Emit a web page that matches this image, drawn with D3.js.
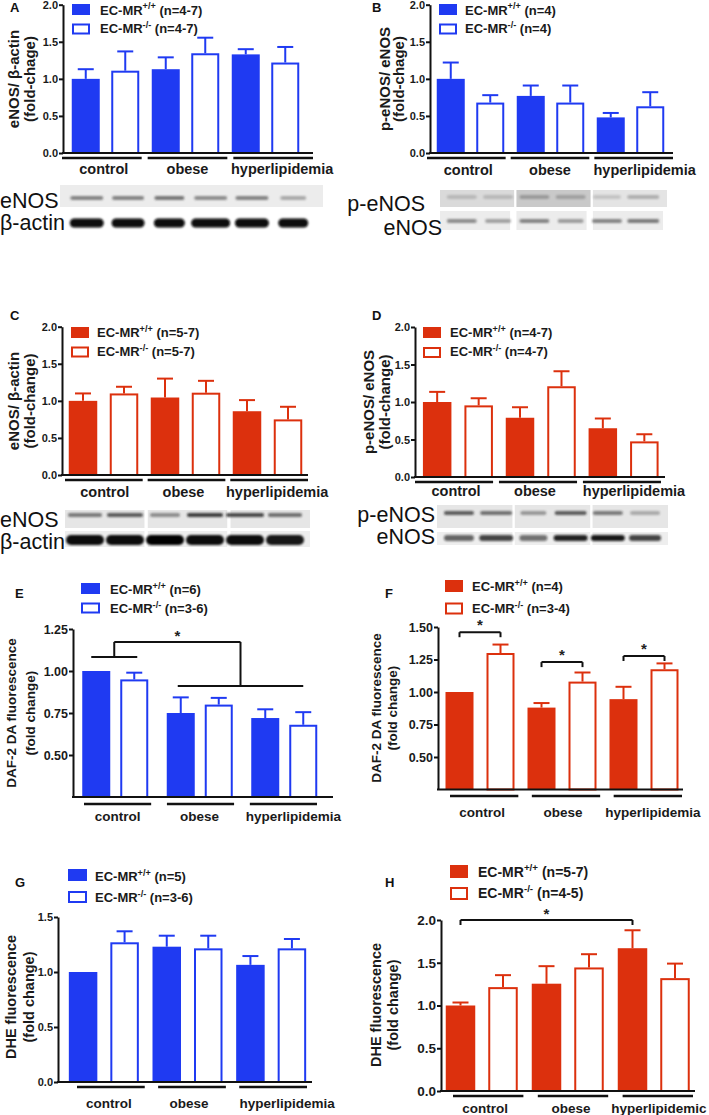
<!DOCTYPE html>
<html><head><meta charset="utf-8">
<script src="https://cdn.jsdelivr.net/npm/d3@7"></script>
<style>body{margin:0;background:#fff}svg{display:block}</style>
</head><body><svg id="c" width="709" height="1115"></svg>
<script>
// ---------------- DATA ----------------
const groups = ["control","obese","hyperlipidemia"];
const groupsH = ["control","obese","hyperlipidemic"];
const ticks2 = [0,0.5,1,1.5,2];
const ticksE = [0.5,0.75,1,1.25];
const ticksF = [0.5,0.75,1,1.25,1.5];
const ticksG = [0,0.5,1,1.5];

// A: eNOS/β-actin (blue)
const aWT=[1.00,1.13,1.33], aWTerr=[0.13,0.16,0.07];
const aKO=[1.11,1.345,1.22], aKOerr=[0.26,0.21,0.21];
// B: p-eNOS/eNOS (blue)
const bWT=[1.00,0.77,0.48], bWTerr=[0.22,0.14,0.06];
const bKO=[0.68,0.68,0.63], bKOerr=[0.10,0.23,0.19];
// C: eNOS/β-actin (red)
const cWT=[1.00,1.045,0.86], cWTerr=[0.10,0.255,0.15];
const cKO=[1.10,1.11,0.75], cKOerr=[0.09,0.16,0.17];
// D: p-eNOS/eNOS (red)
const dWT=[1.00,0.79,0.65], dWTerr=[0.135,0.14,0.13];
const dKO=[0.955,1.21,0.475], dKOerr=[0.095,0.20,0.095];
// E: DAF-2 DA (blue)
const eWT=[1.00,0.75,0.72], eWTerr=[0,0.093,0.052];
const eKO=[0.95,0.80,0.68], eKOerr=[0.04,0.04,0.075];
// F: DAF-2 DA (red)
const fWT=[1.00,0.88,0.945], fWTerr=[0,0.035,0.095];
const fKO=[1.30,1.08,1.175], fKOerr=[0.065,0.07,0.045];
// G: DHE (blue)
const gWT=[1.00,1.23,1.065], gWTerr=[0,0.10,0.08];
const gKO=[1.27,1.215,1.215], gKOerr=[0.10,0.115,0.085];
// H: DHE (red)
const hWT=[1.00,1.255,1.67], hWTerr=[0.035,0.205,0.21];
const hKO=[1.215,1.445,1.32], hKOerr=[0.14,0.155,0.17];

// legends: [superscript, n]
const legA=[["+/+","(n=4-7)"],["-/-","(n=4-7)"]];
const legB=[["+/+","(n=4)"],["-/-","(n=4)"]];
const legC=[["+/+","(n=5-7)"],["-/-","(n=5-7)"]];
const legD=[["+/+","(n=4-7)"],["-/-","(n=4-7)"]];
const legE=[["+/+","(n=6)"],["-/-","(n=3-6)"]];
const legF=[["+/+","(n=4)"],["-/-","(n=3-4)"]];
const legG=[["+/+","(n=5)"],["-/-","(n=3-6)"]];
const legH=[["+/+","(n=5-7)"],["-/-","(n=4-5)"]];

// significance brackets (values on y scale)
const sigE = {left:1.083, top:1.173, right:0.91};
const sigF = [1.46, 1.23, 1.277];
const sigH = 2.0;

// western blot band intensities (6 lanes)
const blotA_eNOS=[0.55,0.55,0.62,0.5,0.55,0.35], blotA_actin=[1,1,1,1,1,1];
const blotB_p=[0.22,0.22,0.35,0.3,0.2,0.32], blotB_e=[0.5,0.4,0.55,0.42,0.55,0.6];
const blotC_eNOS=[0.55,0.7,0.45,0.85,0.8,0.6], blotC_actin=[0.95,0.95,1,0.95,0.95,0.9];
const blotD_p=[0.7,0.6,0.4,0.7,0.55,0.3], blotD_e=[0.6,0.75,0.55,0.9,0.95,0.75];

// ---------------- DRAW ----------------
const BLUE="#1f3af2", RED="#dc300d";
const FONT='"Liberation Sans", Arial, Helvetica, sans-serif';
const svg=d3.select("#c");
const defs=svg.append("defs");
defs.append("filter").attr("id","blur").attr("x","-20%").attr("y","-100%").attr("width","140%").attr("height","300%")
  .append("feGaussianBlur").attr("stdDeviation",1.3);
defs.append("filter").attr("id","blur2").attr("x","-20%").attr("y","-100%").attr("width","140%").attr("height","300%")
  .append("feGaussianBlur").attr("stdDeviation",0.9);

function drawPanel(p){
  const g=svg.append("g").attr("font-family",FONT).attr("font-weight","bold");
  const y=d3.scaleLinear().domain(p.yDomain).range([p.yBottom,p.yTop]);
  const gx=d3.scaleBand().domain(p.groups).range(p.gRange);
  const S=gx.step(), pi=1-p.bw/p.gap, po=(S/p.gap-2+pi)/2;
  const ix=d3.scaleBand().domain(["wt","ko"]).range([0,S]).paddingInner(pi).paddingOuter(po);
  const rows=p.groups.flatMap((grp,i)=>[
    {grp,s:"wt",v:p.wt[i],e:p.wtErr[i]},
    {grp,s:"ko",v:p.ko[i],e:p.koErr[i]}]);
  const cx=d=>gx(d.grp)+ix(d.s)+ix.bandwidth()/2;
  const base=y(p.yDomain[0]);
  const eb=rows.filter(d=>d.e>0);
  g.selectAll("line.ev").data(eb).join("line")
    .attr("x1",cx).attr("x2",cx).attr("y1",d=>y(d.v)).attr("y2",d=>y(d.v+d.e))
    .attr("stroke",p.color).attr("stroke-width",2);
  g.selectAll("line.ec").data(eb).join("line")
    .attr("x1",d=>cx(d)-p.cap/2).attr("x2",d=>cx(d)+p.cap/2).attr("y1",d=>y(d.v+d.e)).attr("y2",d=>y(d.v+d.e))
    .attr("stroke",p.color).attr("stroke-width",2);
  g.selectAll("rect.bar").data(rows).join("rect")
    .attr("x",d=>gx(d.grp)+ix(d.s)+(d.s==="ko"?1:0))
    .attr("width",d=>ix.bandwidth()-(d.s==="ko"?2:0))
    .attr("y",d=>y(d.v)+(d.s==="ko"?1:0))
    .attr("height",d=>base-y(d.v)-(d.s==="ko"?1:0))
    .attr("fill",d=>d.s==="wt"?p.color:"#fff")
    .attr("stroke",d=>d.s==="wt"?"none":p.color).attr("stroke-width",2);
  // axes
  const ax=g.append("g").attr("transform",`translate(${p.axisX},0)`)
    .call(d3.axisLeft(y).tickValues(p.ticks).tickFormat(d3.format(p.fmt)).tickSize(4).tickSizeOuter(0));
  ax.attr("font-family",FONT).attr("font-size",p.tickFs).attr("font-weight","bold");
  ax.select(".domain").attr("stroke","#111").attr("stroke-width",2);
  ax.selectAll(".tick line").attr("stroke","#111").attr("stroke-width",2);
  ax.selectAll(".tick text").attr("fill","#1a1a1a").attr("x",-5);
  g.append("line").attr("x1",p.axisX-1).attr("x2",p.xEnd).attr("y1",base).attr("y2",base)
    .attr("stroke","#111").attr("stroke-width",2);
  // group underlines + labels
  const ux=d3.scaleBand().domain(p.groups).range(p.uRange).paddingInner(p.uPad);
  g.selectAll("line.ul").data(p.groups).join("line")
    .attr("x1",d=>ux(d)).attr("x2",d=>ux(d)+ux.bandwidth()).attr("y1",p.uY).attr("y2",p.uY)
    .attr("stroke","#111").attr("stroke-width",2.5);
  g.selectAll("text.cat").data(p.groups).join("text")
    .attr("x",(d,i)=>ux(d)+ux.bandwidth()/2+p.labDx[i]).attr("y",p.labY)
    .attr("text-anchor","middle").attr("font-size",p.labFs).attr("fill","#1a1a1a").text(d=>d);
  // y title
  [[p.t1,p.t1x],[p.t2,p.t2x]].forEach(([t,x])=>{
    g.append("text").attr("transform",`translate(${x},${p.tcy}) rotate(-90)`)
      .attr("text-anchor","middle").attr("dy","0.35em").attr("font-size",p.tFs).attr("fill","#1a1a1a").text(t);
  });
  // legend
  p.leg.forEach((l,i)=>{
    g.append("rect").attr("x",p.rx+(i?1:0)).attr("y",p.ry[i]+(i?1:0)).attr("width",p.rw-(i?2:0)).attr("height",p.rh-(i?2:0))
      .attr("fill",i?"#fff":p.color).attr("stroke",i?p.color:"none").attr("stroke-width",2);
    const t=g.append("text").attr("x",p.tx).attr("y",p.ty[i]).attr("font-size",p.legFs).attr("fill","#1a1a1a");
    t.append("tspan").text("EC-MR");
    t.append("tspan").attr("font-size",p.legFs*0.7).attr("dy",-p.legFs*0.42).text(l[0]);
    t.append("tspan").attr("dy",p.legFs*0.42).text(" "+l[1]);
  });
  // panel letter
  g.append("text").attr("x",p.lx).attr("y",p.ly).attr("font-size",13).attr("fill","#111").text(p.letter);
  return {g,y,cx:(i,s)=>gx(p.groups[i])+ix(s)+ix.bandwidth()/2};
}

function star(g,x,yy,fs){
  g.append("text").attr("x",x).attr("y",yy).attr("text-anchor","middle").attr("font-size",fs||15)
    .attr("font-weight","bold").attr("fill","#222").text("*");
}

const common={cap:16,fmt:".1f",tickFs:11,labFs:14.5,tFs:15,legFs:13,rw:18,rh:11};

const A=drawPanel({...common,color:BLUE,groups,yDomain:[0,2],yBottom:153,yTop:4.7,gRange:[65.5,305.5],bw:28,gap:39.5,
  wt:aWT,wtErr:aWTerr,ko:aKO,koErr:aKOerr,axisX:63,xEnd:313,ticks:ticks2,
  uRange:[62,313],uPad:0.07,uY:158,labY:174,labDx:[2,0,9],
  t1:"eNOS/ β-actin",t2:"(fold-chage)",t1x:14,t2x:30,tcy:79,
  leg:legA,rx:72,ry:[4,23.5],tx:100,ty:[14.5,33],letter:"A",lx:10,ly:12});

const B=drawPanel({...common,color:BLUE,groups,yDomain:[0,2],yBottom:153,yTop:4.7,gRange:[430.5,670.5],bw:28,gap:39.5,
  wt:bWT,wtErr:bWTerr,ko:bKO,koErr:bKOerr,axisX:430,xEnd:673,ticks:ticks2,
  uRange:[427,673],uPad:0.06,uY:158,labY:175,labDx:[2,0,11],
  t1:"p-eNOS/ eNOS",t2:"(fold-chage)",t1x:385,t2x:399,tcy:79,
  leg:legB,rx:439,ry:[4,23.5],tx:465,ty:[14.5,33],letter:"B",lx:372,ly:12});

const C=drawPanel({...common,color:RED,groups,yDomain:[0,2],yBottom:475,yTop:326.7,gRange:[62.5,308.5],bw:28.5,gap:41,
  wt:cWT,wtErr:cWTerr,ko:cKO,koErr:cKOerr,axisX:62,xEnd:308,ticks:ticks2,
  uRange:[65,308],uPad:0.06,uY:480,labY:497,labDx:[1,-3,8],
  t1:"eNOS/ β-actin",t2:"(fold-change)",t1x:14,t2x:30,tcy:401,
  leg:legC,rx:71,ry:[327,346.5],tx:97,ty:[337,356],letter:"C",lx:10,ly:320});

const D=drawPanel({...common,color:RED,groups,yDomain:[0,2],yBottom:477,yTop:327,gRange:[416.5,665],bw:28.5,gap:41.5,
  wt:dWT,wtErr:dWTerr,ko:dKO,koErr:dKOerr,axisX:415,xEnd:665,ticks:ticks2,
  uRange:[415,661],uPad:0.07,uY:482,labY:496,labDx:[2,-3,12],
  t1:"p-eNOS/ eNOS",t2:"(fold-change)",t1x:369,t2x:385,tcy:402,
  leg:legD,rx:423,ry:[327,347],tx:450,ty:[337,356],letter:"D",lx:372,ly:320});

const E=drawPanel({...common,color:BLUE,groups,yDomain:[0.25,1.25],yBottom:797,yTop:629,gRange:[73,326.5],bw:28,gap:38,
  wt:eWT,wtErr:eWTerr,ko:eKO,koErr:eKOerr,axisX:73,xEnd:333,ticks:ticksE,fmt:".2f",tickFs:12.5,
  uRange:[84,317],uPad:0.19,uY:804,labY:821,labFs:13.5,labDx:[0,-1,10],
  t1:"DAF-2 DA fluorescence",t2:"(fold change)",t1x:11,t2x:30,tcy:713,tFs:13.5,
  leg:legE,rx:81,rw:19,ry:[583,602.5],tx:110,ty:[594,613],letter:"E",lx:15,ly:598});

const F=drawPanel({...common,color:RED,groups,yDomain:[0.25,1.5],yBottom:789.5,yTop:627,gRange:[439,685],bw:28,gap:41,
  wt:fWT,wtErr:fWTerr,ko:fKO,koErr:fKOerr,axisX:438,xEnd:683,ticks:ticksF,fmt:".2f",tickFs:12.5,
  uRange:[450,682],uPad:0.165,uY:796,labY:817,labFs:13.5,labDx:[-2,-3,5],
  t1:"DAF-2 DA fluorescence",t2:"(fold change)",t1x:376,t2x:392,tcy:708,tFs:13.5,
  leg:legF,rx:445,rh:12,ry:[580,602.5],tx:472,ty:[591,613],letter:"F",lx:385,ly:598});

const G=drawPanel({...common,color:BLUE,groups,yDomain:[0,1.5],yBottom:1082,yTop:917,gRange:[62,313],bw:28.5,gap:41.5,
  wt:gWT,wtErr:gWTerr,ko:gKO,koErr:gKOerr,axisX:58,xEnd:312,ticks:ticksG,
  uRange:[77,307],uPad:0.165,uY:1087,labY:1108,labFs:13.5,labDx:[-2,-3,14],
  t1:"DHE fluorescence",t2:"(fold change)",t1x:11,t2x:28.5,tcy:997,tFs:14.5,
  leg:legG,rx:68,rw:19,rh:12,ry:[869,891],tx:95,ty:[881,902],letter:"G",lx:15,ly:887});

const H=drawPanel({...common,color:RED,groups:groupsH,yDomain:[0,2],yBottom:1091,yTop:920,gRange:[438.75,696.75],bw:29.5,gap:42.5,
  wt:hWT,wtErr:hWTerr,ko:hKO,koErr:hKOerr,axisX:441,xEnd:695,ticks:ticks2,tickFs:13.5,
  uRange:[453,693],uPad:0.17,uY:1096,labY:1112.5,labFs:13.5,labDx:[-3,-2,1],
  t1:"DHE fluorescence",t2:"(fold change)",t1x:376,t2x:393,tcy:1005,tFs:14.5,
  leg:legH,rx:450,rh:13,ry:[865,887],tx:478,ty:[877,898],legFs:14,letter:"H",lx:385,ly:887});

// ---- significance brackets ----
function seg(g,x1,y1,x2,y2){g.append("line").attr("x1",x1).attr("y1",y1).attr("x2",x2).attr("y2",y2).attr("stroke","#111").attr("stroke-width",2);}
{
  const g=E.g, y=E.y;
  const l0=E.cx(0,"wt")-5, l1=E.cx(0,"ko")+3, r0=E.cx(1,"wt")-3, r1=E.cx(2,"ko");
  const lm=(l0+l1)/2, rm=(r0+r1)/2;
  seg(g,l0,y(sigE.left),l1,y(sigE.left));
  seg(g,lm,y(sigE.left),lm,y(sigE.top));
  seg(g,lm,y(sigE.top),rm,y(sigE.top));
  seg(g,rm,y(sigE.top),rm,y(sigE.right));
  seg(g,r0,y(sigE.right),r1,y(sigE.right));
  star(g,(lm+rm)/2,y(sigE.top)-1);
}
sigF.forEach((v,i)=>{
  const g=F.g, y=F.y, x0=F.cx(i,"wt"), x1=F.cx(i,"ko"), yy=y(v);
  seg(g,x0,yy+5,x0,yy); seg(g,x0,yy,x1,yy); seg(g,x1,yy,x1,yy+5);
  star(g,(x0+x1)/2,yy-2);
});
{
  const g=H.g, y=H.y, x0=H.cx(0,"wt"), x1=H.cx(2,"wt"), yy=y(sigH);
  seg(g,x0,yy+5,x0,yy); seg(g,x0,yy,x1,yy); seg(g,x1,yy,x1,yy+5);
  star(g,(x0+x1)/2,yy-1);
}

// ---- western blots ----
function bands(g,lane,vals,cy,h,widths,color,filter){
  g.selectAll(null).data(vals).join("rect")
    .attr("x",(d,i)=>lane(i)+lane.bandwidth()/2-widths[i]/2).attr("width",(d,i)=>widths[i])
    .attr("y",cy-h/2).attr("height",h).attr("rx",h/2)
    .attr("fill",color).attr("opacity",d=>d).attr("filter",`url(#${filter})`);
}
function blotLabel(x,yy,t,anchor){
  svg.append("text").attr("x",x).attr("y",yy).attr("font-family",FONT).attr("font-size",21.5)
    .attr("text-anchor",anchor||"start").attr("fill","#111").text(t);
}
const lanes=d3.range(6);
// A
{
  const g=svg.append("g");
  const lane=d3.scaleBand().domain(lanes).range([62,318]).padding(0.2);
  g.append("rect").attr("x",60).attr("y",185).attr("width",263).attr("height",22).attr("fill","#ececec");
  bands(g,lane,blotA_eNOS,198,4,[33,32,30,33,33,26],"#333","blur2");
  bands(g,lane,blotA_actin,223,9,[34,33,31,39,34,30],"#080808","blur2");
  blotLabel(0,208,"eNOS"); blotLabel(0,230,"β-actin");
}
// B
{
  const g=svg.append("g");
  const lane=d3.scaleBand().domain(lanes).range([440,665]).padding(0.2);
  const sec=d3.scaleBand().domain([0,1,2]).range([440,667]).paddingInner(0.03);
  const pf=["#dadada","#c9c9c9","#e4e4e4"];
  [0,1,2].forEach(i=>{
    g.append("rect").attr("x",sec(i)).attr("y",190).attr("width",sec.bandwidth()).attr("height",17).attr("fill",pf[i]);
    g.append("rect").attr("x",sec(i)).attr("y",211).attr("width",sec.bandwidth()-4).attr("height",19).attr("fill","#ececec");
  });
  bands(g,lane,blotB_p,197,4,[30,30,30,30,28,32],"#444","blur");
  bands(g,lane,blotB_e,221,4,[30,26,30,26,30,32],"#333","blur2");
  blotLabel(425,211,"p-eNOS","end"); blotLabel(442,235,"eNOS","end");
}
// C
{
  const g=svg.append("g");
  const lane=d3.scaleBand().domain(lanes).range([62,308]).padding(0.15);
  const sec=d3.scaleBand().domain([0,1,2]).range([65,310]).paddingInner(0.04);
  [0,1,2].forEach(i=>{
    g.append("rect").attr("x",sec(i)).attr("y",510).attr("width",sec.bandwidth()).attr("height",18).attr("fill","#e6e6e6");
    g.append("rect").attr("x",sec(i)).attr("y",531).attr("width",sec.bandwidth()).attr("height",16).attr("fill","#eeeeee");
  });
  bands(g,lane,blotC_eNOS,515,4,[34,36,30,36,38,34],"#222","blur2");
  bands(g,lane,blotC_actin,540,10,[38,38,38,38,38,38],"#050505","blur2");
  blotLabel(0,527,"eNOS"); blotLabel(0,549,"β-actin");
}
// D
{
  const g=svg.append("g");
  const lane=d3.scaleBand().domain(lanes).range([437,667]).padding(0.18);
  const sec=d3.scaleBand().domain([0,1,2]).range([437,668]).paddingInner(0.03);
  [0,1,2].forEach(i=>{
    g.append("rect").attr("x",sec(i)).attr("y",505).attr("width",sec.bandwidth()).attr("height",23).attr("fill","#e6e6e6");
    g.append("rect").attr("x",sec(i)).attr("y",532).attr("width",sec.bandwidth()).attr("height",13).attr("fill","#eeeeee");
  });
  bands(g,lane,blotD_p,513,4,[30,32,26,32,30,30],"#222","blur2");
  bands(g,lane,blotD_e,538,6,[30,34,28,34,34,32],"#111","blur2");
  blotLabel(435,522,"p-eNOS","end"); blotLabel(435,544,"eNOS","end");
}
</script></body></html>
